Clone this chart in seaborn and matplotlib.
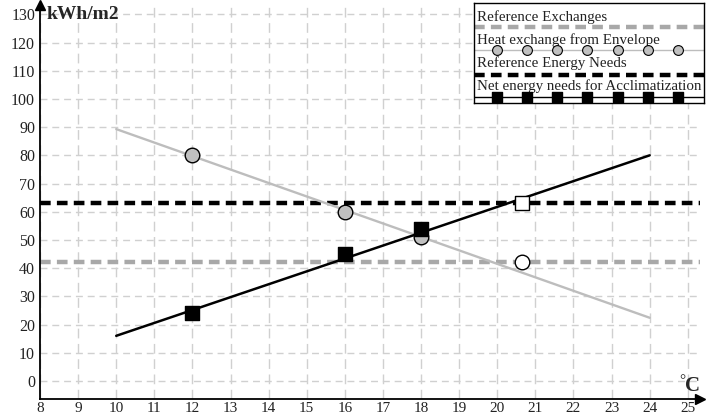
import matplotlib
matplotlib.use("Agg")
import matplotlib.pyplot as plt
import seaborn as sns
import pandas as pd

# ------------------------------------------------------------
# Data
# ------------------------------------------------------------
line_x = [10, 24]
envelope_line = [89.3, 22.4]
net_line = [16, 80]

point_x = [12, 16, 18]
envelope_points = [80, 60, 51]
net_points = [24, 45, 54]

balance_x = 20.65
reference_exchange = 42
reference_needs = 63

x_ticks = list(range(8, 26))
y_ticks = list(range(0, 131, 10))

legend_labels = [
    "Reference Exchanges",
    "Heat exchange from Envelope",
    "Reference Energy Needs",
    "Net energy needs for Acclimatization",
]

sns.set_theme(style="white")
plt.rcParams["font.family"] = ["Liberation Serif", "DejaVu Serif"]

W, H = 714, 416
fig = plt.figure(figsize=(W / 100, H / 100), dpi=100)
ax = fig.add_axes([40 / W, (H - 399) / H, (700 - 40) / W, (399 - 5) / H])

ax.set_xlim(8, 25.32)
ax.set_ylim(-6.4, 133.3)

GRID = "#d0d0d0"
for x in x_ticks:
    ax.axvline(x, color=GRID, lw=1, ls=(0, (7, 4)), zorder=0)
for y in y_ticks:
    ax.axhline(y, color=GRID, lw=1, ls=(0, (5, 3.5)), zorder=0)

# reference levels
ax.axhline(reference_exchange, color="#a8a8a8", lw=3.2, ls=(0, (2.4, 1.4)), zorder=2)
ax.axhline(reference_needs, color="black", lw=3.2, ls=(0, (2.4, 1.4)), zorder=2)

lines = pd.DataFrame({"x": line_x, "env": envelope_line, "net": net_line})
sns.lineplot(data=lines, x="x", y="env", color="#bdbdbd", lw=1.7, ax=ax, zorder=3)
sns.lineplot(data=lines, x="x", y="net", color="black", lw=1.8, ax=ax, zorder=3)

pts = pd.DataFrame({"x": point_x, "env": envelope_points, "net": net_points})
sns.scatterplot(data=pts, x="x", y="env", marker="o", s=110, color="#c0c0c0",
                edgecolor="black", linewidth=1, ax=ax, zorder=5)
sns.scatterplot(data=pts, x="x", y="net", marker="s", s=95, color="black",
                edgecolor="black", linewidth=1, ax=ax, zorder=5)
ax.scatter([balance_x], [reference_exchange], marker="o", s=110, color="white",
           edgecolor="black", linewidth=1, zorder=5)
ax.scatter([balance_x], [reference_needs], marker="s", s=95, color="white",
           edgecolor="black", linewidth=1, zorder=5)

# axes styling
for side in ["top", "right"]:
    ax.spines[side].set_visible(False)
for side in ["left", "bottom"]:
    ax.spines[side].set_color("black")
    ax.spines[side].set_linewidth(1.3)

ax.set_xticks(x_ticks)
ax.set_yticks(y_ticks)
ax.tick_params(axis="both", direction="inout", length=7, width=1, color="black",
               labelsize=11.5, labelcolor="#222222", pad=0)
ax.tick_params(axis="x", labelsize=11, pad=-1)
ax.set_xlabel("")
ax.set_ylabel("")

# arrow heads
ax.plot(0, 1, "^", color="black", ms=7, transform=ax.transAxes, clip_on=False)
ax.plot(1, 0, ">", color="black", ms=7, transform=ax.transAxes, clip_on=False)

ax.text(0.01, 0.998, "kWh/m2", transform=ax.transAxes, fontsize=14,
        fontweight="bold", va="top", ha="left")
fig.text(682 / W, 1 - 381 / H, "°", fontsize=11, ha="center", va="center")
fig.text(693 / W, 1 - 386 / H, "C", fontsize=15, fontweight="bold",
         ha="center", va="center")

# custom legend box
lg = fig.add_axes([474 / W, 1 - 103 / H, (704 - 474) / W, 100 / H])
lg.set_xlim(0, 1)
lg.set_ylim(0, 1)
lg.set_xticks([])
lg.set_yticks([])
for s in lg.spines.values():
    s.set_color("black")
    s.set_linewidth(1)
lg.set_facecolor("white")

row_text = [0.86, 0.625, 0.395, 0.165]
row_line = [0.76, 0.53, 0.285, 0.06]
styles = [
    dict(color="#a8a8a8", lw=3.2, ls=(0, (2.4, 1.4))),
    dict(color="#bdbdbd", lw=1.0, ls="-"),
    dict(color="black", lw=3.2, ls=(0, (2.4, 1.4))),
    dict(color="black", lw=1.0, ls="-"),
]
marker_pos = [0.1 + 0.131 * i for i in range(7)]
for i, label in enumerate(legend_labels):
    lg.text(0.012, row_text[i], label, fontsize=10.8, va="center", ha="left",
            color="#222222")
    lg.plot([0, 1], [row_line[i]] * 2, **styles[i])
lg.scatter(marker_pos, [row_line[1]] * 7, marker="o", s=50, color="#c0c0c0",
           edgecolor="black", linewidth=0.8, zorder=3, clip_on=False)
lg.scatter(marker_pos, [row_line[3]] * 7, marker="s", s=50, color="black",
           zorder=3, clip_on=False)

fig.savefig("out.png", dpi=100)
